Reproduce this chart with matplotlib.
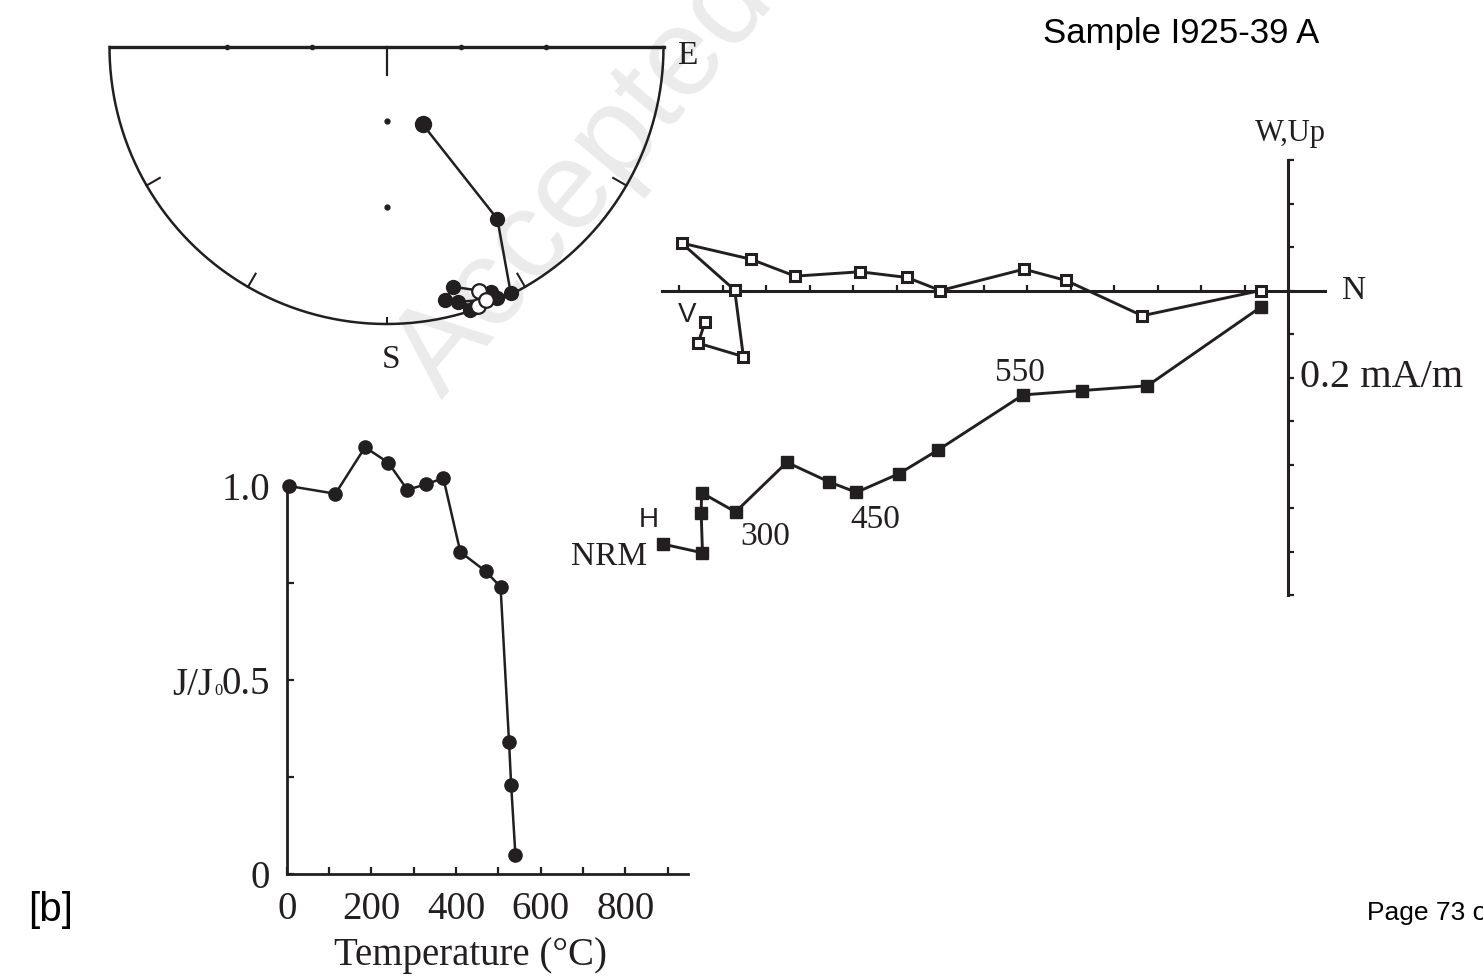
import numpy as np
import matplotlib
matplotlib.use('Agg')
import matplotlib.pyplot as plt

W, H = 1483, 976
INK = '#231f20'
SERIF = ['Liberation Serif', 'DejaVu Serif']
SANS = ['Liberation Sans', 'DejaVu Sans']

plt.rcParams['font.family'] = SERIF

# stereonet: declination / inclination (deg); negative inc = upper hemisphere (open)
stereo_dec = [154.9, 147.2, 153.2, 156.3, 156.9, 159.2, 164.4, 167.0, 162.4, 160.5, 158.5, 164.3, 161.2]
stereo_inc = [55.7, 17.1, 0.3, 0.5, 2.3, -3.5, 6.1, 3.8, 0.2, -0.5, -1.1, 2.6, 0.5]

# Zijderveld components (mA/m): horizontal (N vs W) and vertical (N vs Up)
h_north = [-1.437, -1.346, -1.349, -1.348, -1.270, -1.152, -1.055, -0.992, -0.894, -0.805, -0.609, -0.474, -0.323, -0.061]
h_west = [-0.583, -0.603, -0.512, -0.465, -0.509, -0.395, -0.440, -0.464, -0.421, -0.367, -0.240, -0.230, -0.219, -0.037]
v_north = [-1.340, -1.356, -1.252, -1.272, -1.394, -1.235, -1.133, -0.984, -0.876, -0.799, -0.607, -0.510, -0.335, -0.063]
v_up = [-0.072, -0.121, -0.152, 0.001, 0.109, 0.072, 0.033, 0.043, 0.030, 0.000, 0.049, 0.023, -0.058, 0.000]

# normalised intensity vs temperature
temps = [5, 115, 185, 240, 285, 330, 370, 410, 470, 505, 525, 530, 540]
j_ratio = [1.00, 0.98, 1.10, 1.06, 0.99, 1.005, 1.02, 0.83, 0.78, 0.74, 0.34, 0.23, 0.05]
t_ticks = [0, 100, 200, 300, 400, 500, 600, 700, 800, 900]
t_labels = ['0', '', '200', '', '400', '', '600', '', '800', '']
j_ticks = [0, 0.25, 0.5, 0.75, 1.0]
j_labels = ['0', '', '0.5', '', '1.0']


def px_axes(fig, x0, y0, x1, y1):
    ax = fig.add_axes([x0 / W, 1 - y1 / H, (x1 - x0) / W, (y1 - y0) / H])
    ax.patch.set_visible(False)
    return ax


fig = plt.figure(figsize=(W / 100, H / 100), dpi=100)

# watermark
fig.text(585 / W, 1 - 180 / H, 'Accepted', rotation=50, fontsize=90, color='#ebebeb',
         family=SANS, ha='center', va='center', zorder=-5)

# ---- stereonet (lower half, Wulff) ----
R, cx, cy = 277.0, 386.5, 47.0
sx, sy = (-1.1, 1.15), (-1.2, 0.16)
ax1 = px_axes(fig, cx + sx[0] * R, cy - sy[1] * R, cx + sx[1] * R, cy - sy[0] * R)
ax1.set_xlim(sx)
ax1.set_ylim(sy)
ax1.axis('off')

a = np.radians(np.linspace(90, 270, 300))
ax1.plot(np.sin(a), np.cos(a), color=INK, lw=1.8)
ax1.plot([-1, 1], [0, 0], color=INK, lw=2.4)
ax1.plot([0, 0], [0, -0.1], color=INK, lw=1.6)
for d in [120, 150, 210, 240]:
    t = np.radians(d)
    ax1.plot([np.sin(t), 0.945 * np.sin(t)], [np.cos(t), 0.945 * np.cos(t)], color=INK, lw=1.5)
ax1.plot([0, 0], [-1, -0.98], color=INK, lw=1.5)
for r in [np.tan(np.radians(15)), np.tan(np.radians(30))]:
    ax1.plot([-r, r], [0, 0], 'o', color=INK, ms=3)
    ax1.plot([0], [-r], 'o', color=INK, ms=3.5)

dec = np.radians(stereo_dec)
inc = np.array(stereo_inc)
rr = np.tan(np.radians(90 - np.abs(inc)) / 2)
xs, ys = rr * np.sin(dec), rr * np.cos(dec)
ax1.plot(xs, ys, color=INK, lw=1.8, zorder=3)
down = inc >= 0
ax1.plot(xs[down], ys[down], 'o', color=INK, ms=10, zorder=4)
ax1.plot(xs[0], ys[0], 'o', color=INK, ms=11.5, zorder=4)
ax1.plot(xs[~down], ys[~down], 'o', mfc='white', mec=INK, mew=1.6, ms=10.5, zorder=5)
ax1.text(1.05, -0.03, 'E', fontsize=24, color=INK, ha='left', va='center')
ax1.text(0.015, -1.13, 'S', fontsize=24, color=INK, ha='center', va='center')

# ---- Zijderveld ----
ox, oy, S = 1288.0, 290.5, 435.0
ax2 = px_axes(fig, 560, 100, 1483, 640)
ax2.set_xlim((560 - ox) / S, (1483 - ox) / S)
ax2.set_ylim((oy - 640) / S, (oy - 100) / S)
for side in ['top', 'right']:
    ax2.spines[side].set_visible(False)
ax2.spines['left'].set_position(('data', 0))
ax2.spines['bottom'].set_position(('data', 0))
ax2.spines['left'].set_bounds(-0.7, 0.3)
ax2.spines['bottom'].set_bounds(-1.44, 0.085)
for side in ['left', 'bottom']:
    ax2.spines[side].set_linewidth(2.2)
    ax2.spines[side].set_color(INK)
ax2.set_xticks(np.arange(-1.4, -0.05, 0.1))
ax2.set_yticks(np.arange(-0.7, 0.31, 0.1))
ax2.tick_params(direction='in', length=4.5, width=1.6, color=INK,
                labelbottom=False, labelleft=False)

ax2.plot(h_north, h_west, '-s', color=INK, lw=2.1, ms=8, zorder=4)
ax2.plot(v_north, v_up, '-s', color=INK, lw=2.1, ms=7.5, mfc='white', mec=INK, mew=2.2, zorder=4)

ax2.text(0.005, 0.362, 'W,Up', fontsize=22, color=INK, ha='center', va='center')
ax2.text(0.124, 0.0, 'N', fontsize=24, color=INK, ha='left', va='center')
ax2.text(0.028, -0.2, '0.2 mA/m', fontsize=29, color=INK, ha='left', va='center')
ax2.text(-1.382, -0.056, 'V', fontsize=20, color=INK, family=SANS, ha='center', va='center')
ax2.text(-1.469, -0.528, 'H', fontsize=20, color=INK, family=SANS, ha='center', va='center')
ax2.text(-1.474, -0.613, 'NRM', fontsize=24, color=INK, ha='right', va='center')
ax2.text(-1.202, -0.567, '300', fontsize=24, color=INK, ha='center', va='center')
ax2.text(-0.949, -0.528, '450', fontsize=24, color=INK, ha='center', va='center')
ax2.text(-0.616, -0.19, '550', fontsize=24, color=INK, ha='center', va='center')

# ---- J/J0 vs temperature ----
tx0, ty0, kt, kj = 286.7, 874.0, 0.4235, 388.0
ax3 = px_axes(fig, tx0, ty0 - 1.13 * kj, tx0 + 948 * kt, ty0)
ax3.set_xlim(0, 948)
ax3.set_ylim(0, 1.13)
for side in ['top', 'right']:
    ax3.spines[side].set_visible(False)
ax3.spines['left'].set_bounds(0, 1.0)
for side in ['left', 'bottom']:
    ax3.spines[side].set_linewidth(2.0)
    ax3.spines[side].set_color(INK)
ax3.set_xticks(t_ticks)
ax3.set_xticklabels(t_labels)
ax3.set_yticks(j_ticks)
ax3.set_yticklabels(j_labels)
ax3.tick_params(direction='in', length=5, width=1.6, color=INK, labelsize=28,
                labelcolor=INK)
ax3.tick_params(axis='x', pad=12)
ax3.tick_params(axis='y', pad=12)
ax3.plot(temps, j_ratio, '-o', color=INK, lw=1.8, ms=9.5, clip_on=False, zorder=4)

fig.text(213 / W, 1 - 695 / H, 'J/J', fontsize=28, color=INK, ha='right', va='baseline')
fig.text(214 / W, 1 - 695 / H, '0', fontsize=12, color=INK, ha='left', va='baseline')
fig.text(470 / W, 1 - 956 / H, 'Temperature (°C)', fontsize=28, color=INK,
         ha='center', va='center')

# page furniture
fig.text(1043 / W, 1 - 33 / H, 'Sample I925-39 A', fontsize=25, color='black',
         family=SANS, ha='left', va='center')
fig.text(28 / W, 1 - 910 / H, '[b]', fontsize=29, color='black', family=SANS,
         ha='left', va='center')
fig.text(1367 / W, 1 - 913 / H, 'Page 73 of 80', fontsize=19, color='black',
         family=SANS, ha='left', va='center')

fig.savefig('out.png', dpi=100)
